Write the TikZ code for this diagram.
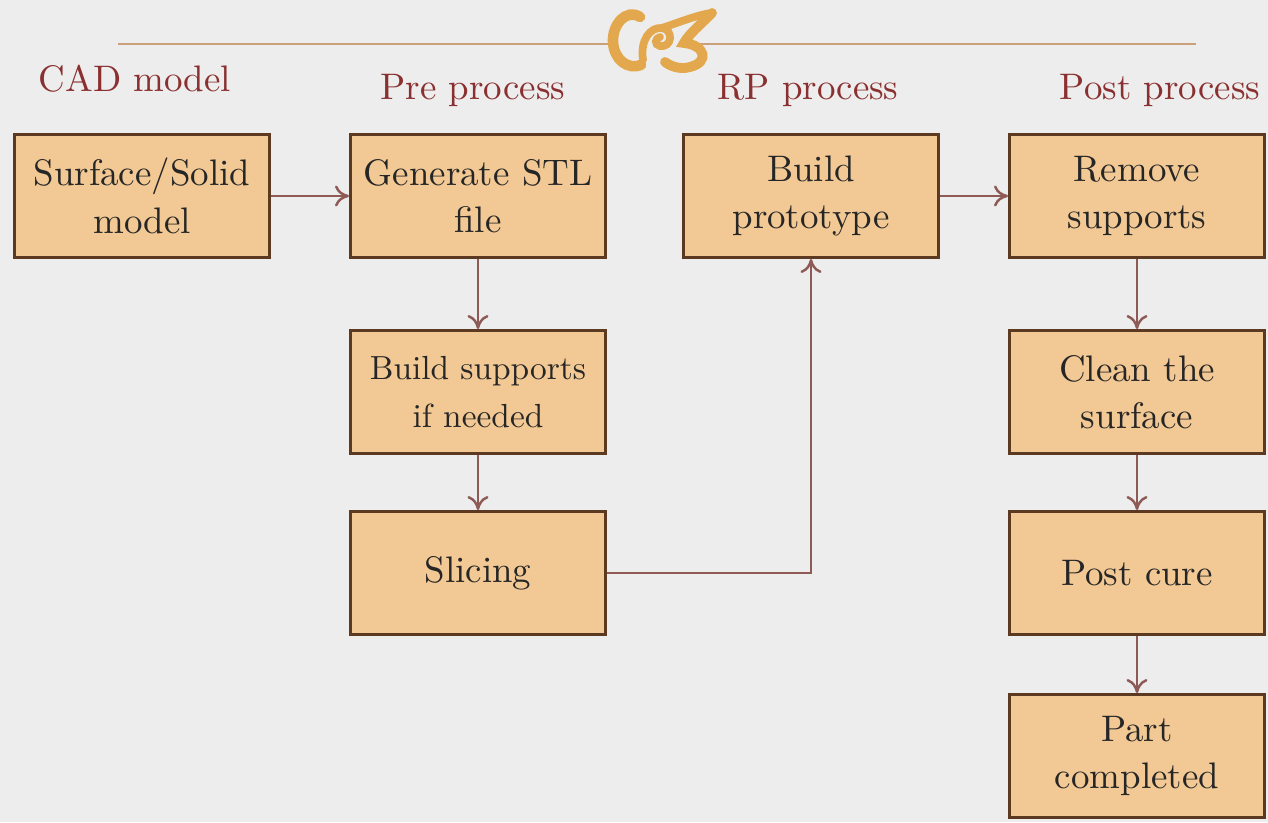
\documentclass[tikz,border=0pt]{standalone}
\usetikzlibrary{arrows.meta}
\definecolor{bg}{HTML}{EDEDED}
\definecolor{boxfill}{HTML}{F2C994}
\definecolor{boxline}{HTML}{5C3A22}
\definecolor{arr}{HTML}{8E5A55}
\definecolor{head}{HTML}{8A3030}
\definecolor{gold}{HTML}{E3A84E}
\definecolor{rule}{HTML}{C9A07A}
\begin{document}
\begin{tikzpicture}[x=0.01cm,y=-0.01cm,
  stepbox/.style={draw=boxline,line width=0.8pt,fill=boxfill,minimum width=2.55cm,minimum height=1.23cm,align=center,font=\fontsize{10.5}{13.5}\selectfont,text=black!85},
  hdr/.style={text=head,font=\fontsize{10.5}{12}\selectfont,anchor=base},
  conn/.style={draw=arr,line width=0.7pt,-{To[length=4pt,width=6pt]}},
  orn/.style={draw=gold,line width=2.2pt,line cap=round}]
\fill[bg] (0,0) rectangle (1268,822);
\useasboundingbox (0,0) rectangle (1268,822);
% top rule and ornament
\draw[rule,line width=0.8pt] (118,44) -- (613,44);
\draw[rule,line width=0.8pt] (700,44) -- (1196,44);
\draw[orn,line width=3pt] (640,17) .. controls (626,8) and (612,25) .. (613,42) .. controls (614,60) and (628,70) .. (641,65);
\draw[orn] (643,60) .. controls (640,40) and (650,27) .. (662,28) .. controls (674,30) and (672,48) .. (660,46) .. controls (654,45) and (655,38) .. (660,37);
\draw[orn] (662,28) .. controls (680,22) and (700,14) .. (712,13);
\draw[orn,line width=2.8pt] (712,13) .. controls (700,25) and (688,35) .. (684,43) .. controls (705,45) and (710,62) .. (690,67) .. controls (680,70) and (670,66) .. (665,62);
% headers
\node[hdr] (h1) at (135,92) {CAD model};
\node[hdr] (h2) at (473,100) {Pre process};
\node[hdr] (h3) at (808,100) {RP process};
\node[hdr] (h4) at (1160,100) {Post process};
% boxes
\node[stepbox] (a) at (142,196) {Surface/Solid\\model};
\node[stepbox] (b) at (478,196) {Generate STL\\file};
\node[stepbox] (c) at (478,392) {\fontsize{9.5}{13}\selectfont Build supports\\\fontsize{9.5}{13}\selectfont if needed};
\node[stepbox] (d) at (478,573) {Slicing};
\node[stepbox] (e) at (811,196) {Build\\prototype};
\node[stepbox] (f) at (1137,196) {Remove\\supports};
\node[stepbox] (g) at (1137,392) {Clean the\\surface};
\node[stepbox] (h) at (1137,573) {Post cure};
\node[stepbox] (i) at (1137,756) {Part\\completed};
% connectors
\draw[conn] (a) -- (b);
\draw[conn] (b) -- (c);
\draw[conn] (c) -- (d);
\draw[conn] (d.east) -| (e.south);
\draw[conn] (e) -- (f);
\draw[conn] (f) -- (g);
\draw[conn] (g) -- (h);
\draw[conn] (h) -- (i);
\end{tikzpicture}
\end{document}
